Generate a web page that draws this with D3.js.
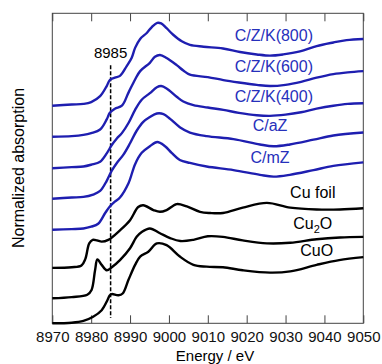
<!DOCTYPE html>
<html>
<head>
<meta charset="utf-8">
<script src="https://cdn.jsdelivr.net/npm/d3@7"></script>
<style>
  html, body { margin: 0; padding: 0; background: #fff; }
  svg { display: block; font-family: 'Liberation Sans', Arial, sans-serif; }
</style>
</head>
<body>
<figure id="xanes" style="margin:0"></figure>
<script>
// Cu K-edge XANES, each spectrum normalised (pre-edge 0, post-edge ~1) as [energy, mu]
const czk800 = [[8970,0],[8975,0.02],[8978,0.03],[8980,0.06],[8982.3,0.16],[8984,0.33],[8984.8,0.43],[8986.1,0.47],[8987.4,0.50],[8989.1,0.66],[8990.4,0.80],[8991.3,0.97],[8992.6,1.12],[8994.3,1.22],[8995.6,1.32],[8997,1.39],[8998,1.38],[8999.4,1.30],[9001.1,1.19],[9003.3,1.08],[9005.4,1.02],[9008.9,0.99],[9013.9,0.96],[9018.3,0.90],[9022.6,0.86],[9026,0.84],[9029.4,0.86],[9033.7,0.91],[9038,1.0],[9042.3,1.06],[9045.7,1.10],[9050,1.12]];
const czk600 = [[8970,0],[8975,0.01],[8978,0.03],[8980,0.06],[8982.3,0.12],[8984,0.29],[8984.8,0.40],[8986.1,0.47],[8987.9,0.52],[8989.6,0.74],[8991.3,0.96],[8992.6,1.10],[8995.1,1.24],[8996.4,1.34],[8997.7,1.37],[8999.4,1.32],[9002,1.20],[9003.7,1.11],[9005.4,1.04],[9010,1.00],[9014,0.95],[9018,0.91],[9022.6,0.87],[9026,0.85],[9030,0.87],[9034,0.92],[9038,0.99],[9042.3,1.05],[9046,1.08],[9050,1.10]];
const czk400 = [[8970,0],[8975,0.02],[8978,0.03],[8980,0.06],[8982.3,0.11],[8984,0.25],[8985.3,0.39],[8986.6,0.50],[8987.9,0.59],[8989.6,0.76],[8991.3,0.98],[8993,1.15],[8995.1,1.26],[8996.9,1.36],[8998,1.38],[8999.4,1.34],[9002,1.20],[9003.7,1.12],[9006.3,1.06],[9010,1.02],[9014,0.98],[9018,0.93],[9022.6,0.89],[9026,0.88],[9030,0.90],[9034,0.94],[9038,1.0],[9042.3,1.05],[9046,1.08],[9050,1.09]];
const caz = [[8970,0],[8975,0.02],[8978,0.03],[8980.5,0.07],[8982.3,0.13],[8984,0.30],[8985.3,0.47],[8986.6,0.60],[8988.3,0.74],[8990,0.93],[8991.7,1.14],[8993.4,1.29],[8995.1,1.37],[8996.9,1.43],[8998.6,1.42],[9000.3,1.34],[9002.8,1.20],[9005.4,1.11],[9009.7,1.05],[9016.6,1.00],[9023.4,0.91],[9026.9,0.88],[9031.1,0.91],[9037.2,0.99],[9042.3,1.06],[9050,1.11]];
const cmz = [[8970,0],[8975,0.01],[8978,0.02],[8980,0.05],[8981.8,0.10],[8983.6,0.28],[8984.8,0.39],[8986.1,0.47],[8987.4,0.54],[8989.6,0.78],[8991.3,1.10],[8993,1.29],[8995.1,1.40],[8997,1.47],[8999,1.40],[9000.7,1.29],[9002.8,1.17],[9005.4,1.12],[9009.7,1.06],[9016.6,1.00],[9023.4,0.92],[9026.9,0.89],[9031.1,0.92],[9037.2,1.00],[9042.3,1.07],[9050,1.13]];
const cuFoil = [[8970,0],[8975,0.01],[8977.5,0.04],[8978.5,0.15],[8979.5,0.41],[8980.4,0.47],[8981.5,0.46],[8982.7,0.44],[8984.4,0.47],[8987.4,0.63],[8990,0.80],[8992.1,1.02],[8993.4,1.05],[8996,0.97],[8997.7,0.94],[8999.4,0.97],[9002,1.07],[9004.6,1.03],[9008,0.94],[9010.6,0.92],[9013.9,0.92],[9019,1.01],[9025.2,1.09],[9031.2,1.01],[9038,0.98],[9044,0.98],[9050,1.0]];
const cu2o = [[8970,0],[8975,0.02],[8979,0.06],[8980.1,0.14],[8981,0.47],[8981.6,0.65],[8982.7,0.56],[8984,0.47],[8985.3,0.52],[8987.4,0.64],[8990,0.84],[8991.7,1.03],[8993,1.11],[8995.1,1.17],[8997.7,1.09],[9000.3,1.01],[9002.9,0.96],[9006.3,0.98],[9010,1.04],[9013.9,1.03],[9019,0.97],[9025.2,0.92],[9031.2,0.93],[9038,0.99],[9044,1.02],[9050,1.03]];
const cuo = [[8970,0],[8975,0.01],[8978,0.04],[8980.5,0.11],[8982.7,0.22],[8984.2,0.39],[8984.8,0.47],[8985.3,0.49],[8987,0.47],[8988.1,0.50],[8989.6,0.73],[8991.3,0.98],[8992.6,1.12],[8994.7,1.20],[8996.9,1.34],[8999.4,1.31],[9002.8,1.12],[9006.3,0.98],[9009.7,0.95],[9013.9,0.94],[9019,0.89],[9026,0.85],[9031.2,0.87],[9038,0.98],[9043.8,1.06],[9050,1.11]];

const spectra = [czk800, czk600, czk400, caz, cmz, cuFoil, cu2o, cuo];
const names = ['C/Z/K(800)', 'C/Z/K(600)', 'C/Z/K(400)', 'C/aZ', 'C/mZ', 'Cu foil', 'Cu2O', 'CuO'];
const offsets = [3.65, 3.13, 2.60, 2.09, 1.57, 0.93, 0.42, 0];
// where each label sits: [energy, offset-units]
const labelPos = [[9027, 4.73], [9027, 4.21], [9027, 3.72], [9026, 3.22], [9026, 2.69], [9037, 2.10], [9037, 1.58], [9038, 1.13]];
const xTicks = [8970, 8980, 8990, 9000, 9010, 9020, 9030, 9040, 9050];
const refEnergy = 8985;

const width = 382, height = 364;
const margin = {top: 13.3, right: 18.7, bottom: 40.7, left: 52.3};
const blue = '#1e1eb0';
const blueText = '#2630bb';

const svg = d3.select('figure#xanes')
  .append('svg')
  .attr('width', width)
  .attr('height', height);

const x = d3.scaleLinear().domain([8970, 9050]).range([margin.left, width - margin.right]);
const y = d3.scaleLinear().domain([0, 5.2]).range([height - margin.bottom, margin.top]);

// axes: ticks pointing inward on top and bottom, no y ticks
const bottomAxis = svg.append('g')
  .attr('transform', 'translate(0,' + (height - margin.bottom) + ')')
  .call(d3.axisBottom(x).tickValues(xTicks).tickFormat(d3.format('d')).tickSize(-8).tickPadding(8));
const topAxis = svg.append('g')
  .attr('transform', 'translate(0,' + margin.top + ')')
  .call(d3.axisTop(x).tickValues(xTicks).tickFormat('').tickSize(-8));
[bottomAxis, topAxis].forEach(a => {
  a.select('.domain').remove();
  a.selectAll('line').attr('stroke', '#444');
});
bottomAxis.selectAll('text')
  .style('font-size', '15px')
  .attr('fill', '#111');

svg.append('rect')
  .attr('x', margin.left)
  .attr('y', margin.top)
  .attr('width', width - margin.left - margin.right)
  .attr('height', height - margin.top - margin.bottom)
  .attr('fill', 'none')
  .attr('stroke', '#444')
  .attr('stroke-width', 1);

// reference line at the pre-edge energy
svg.append('line')
  .attr('x1', x(refEnergy)).attr('x2', x(refEnergy))
  .attr('y1', y(4.33)).attr('y2', y(0.09))
  .attr('stroke', '#000')
  .attr('stroke-width', 1.5)
  .attr('stroke-dasharray', '4,2');

svg.append('text')
  .attr('x', x(refEnergy))
  .attr('y', 58)
  .attr('text-anchor', 'middle')
  .style('font-size', '15px')
  .text(refEnergy);

// spectra
spectra.forEach((s, i) => {
  const line = d3.line()
    .x(d => x(d[0]))
    .y(d => y(d[1] + offsets[i]))
    .curve(d3.curveCatmullRom.alpha(0.5));
  svg.append('path')
    .datum(s)
    .attr('d', line)
    .attr('fill', 'none')
    .attr('stroke', i < 5 ? blue : '#000')
    .attr('stroke-width', 2.4)
    .attr('stroke-linejoin', 'round');
});

// labels
names.forEach((n, i) => {
  const t = svg.append('text')
    .attr('x', x(labelPos[i][0]))
    .attr('y', y(labelPos[i][1]))
    .attr('text-anchor', 'middle')
    .attr('fill', i < 5 ? blueText : '#000')
    .style('font-size', '16px');
  if (n === 'Cu2O') {
    t.append('tspan').text('Cu');
    t.append('tspan').text('2').style('font-size', '11px').attr('dy', 4);
    t.append('tspan').text('O').attr('dy', -4);
  } else {
    t.text(n);
  }
});

svg.append('text')
  .attr('x', 215)
  .attr('y', 360.5)
  .attr('text-anchor', 'middle')
  .style('font-size', '15px')
  .text('Energy / eV');

svg.append('text')
  .attr('transform', 'translate(24,168) rotate(-90)')
  .attr('text-anchor', 'middle')
  .style('font-size', '16px')
  .text('Normalized absorption');
</script>
</body>
</html>
